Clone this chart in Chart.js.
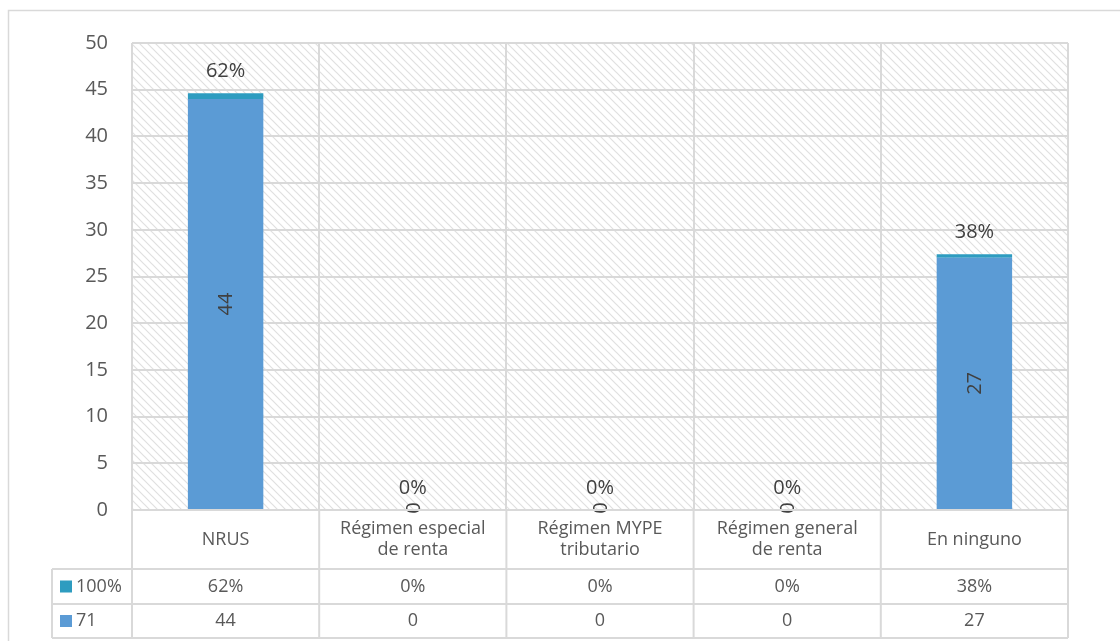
<!DOCTYPE html>
<html>
<head>
<meta charset="utf-8">
<script src="https://cdn.jsdelivr.net/npm/chart.js@4/dist/chart.umd.min.js"></script>
<style>
  html, body { margin: 0; padding: 0; background: #fff; overflow: hidden; }
  #wrap { width: 1120px; height: 641px; position: relative; }
</style>
</head>
<body>
<div id="wrap"><canvas id="chart" width="1120" height="641"></canvas></div>
<script>
// categorias (multi-line labels as arrays)
const categories = [
    ['NRUS'],
    ['Régimen especial', 'de renta'],
    ['Régimen MYPE', 'tributario'],
    ['Régimen general', 'de renta'],
    ['En ninguno']
];
const countName   = '71';
const countValues = [44, 0, 0, 0, 27];
const pctName     = '100%';
const pctValues   = [0.62, 0, 0, 0, 0.38];
const pctLabels   = ['62%', '0%', '0%', '0%', '38%'];
const yTicks      = [0, 5, 10, 15, 20, 25, 30, 35, 40, 45, 50];

const COLORS = {
    count: '#5b9bd5',
    pct:   '#2e9cc0',
    grid:  '#d9d9d9',
    text:  '#595959',
    label: '#404040'
};
const FONT = "'Open Sans', 'Noto Sans', sans-serif";

// diagonal hatch used as the plot area fill
const makeHatch = () => {
    const c = document.createElement('canvas');
    c.width = 8; c.height = 8;
    const g = c.getContext('2d');
    g.fillStyle = '#fff';
    g.fillRect(0, 0, 8, 8);
    g.strokeStyle = '#e0e0e0';
    g.lineWidth = 1.2;
    g.beginPath();
    g.moveTo(0, 0); g.lineTo(8, 8);
    g.moveTo(-4, 4); g.lineTo(4, 12);
    g.moveTo(4, -4); g.lineTo(12, 4);
    g.stroke();
    return g.createPattern(c, 'repeat');
};

const backgroundPlugin = {
    id: 'background',
    beforeDraw(chart) {
        const { ctx, chartArea: a } = chart;
        ctx.save();
        ctx.fillStyle = '#fff';
        ctx.fillRect(0, 0, chart.width, chart.height);
        // outer frame
        ctx.strokeStyle = COLORS.grid;
        ctx.lineWidth = 1.5;
        ctx.strokeRect(8.5, 10.5, chart.width + 20, chart.height + 20);
        ctx.fillStyle = makeHatch();
        ctx.fillRect(a.left, a.top, a.right - a.left, a.bottom - a.top);
        ctx.restore();
    }
};

// value labels: count rotated inside the bar, percentage above the stack
const labelPlugin = {
    id: 'barLabels',
    afterDatasetsDraw(chart) {
        const { ctx } = chart;
        const countMeta = chart.getDatasetMeta(0);
        const pctMeta   = chart.getDatasetMeta(1);
        ctx.save();
        ctx.fillStyle = COLORS.label;
        ctx.font = `20px ${FONT}`;
        ctx.textAlign = 'center';
        ctx.textBaseline = 'middle';
        countMeta.data.forEach((bar, i) => {
            const cy = countValues[i] === 0 ? bar.base - 2 : (bar.y + bar.base) / 2;
            ctx.save();
            ctx.translate(bar.x, cy);
            ctx.rotate(-Math.PI / 2);
            ctx.fillText(String(countValues[i]), 0, 1);
            ctx.restore();
        });
        pctMeta.data.forEach((bar, i) => {
            ctx.fillText(pctLabels[i], bar.x, bar.y - 22);
        });
        ctx.restore();
    }
};

// data table beneath the axis
const tablePlugin = {
    id: 'dataTable',
    afterDraw(chart) {
        const { ctx, chartArea: a } = chart;
        const x = chart.scales.x;
        const left = 52, catBottom = 569, row1 = 604, row2 = 638;
        const colW = (a.right - a.left) / categories.length;
        ctx.save();
        ctx.strokeStyle = COLORS.grid;
        ctx.lineWidth = 2;
        ctx.beginPath();
        ctx.moveTo(a.left, a.bottom); ctx.lineTo(a.right, a.bottom);
        [catBottom, row1, row2].forEach(y => { ctx.moveTo(left, y); ctx.lineTo(a.right, y); });
        for (let i = 0; i <= categories.length; i++) {
            const px = a.left + i * colW;
            ctx.moveTo(px, a.bottom); ctx.lineTo(px, row2);
        }
        ctx.moveTo(left, catBottom); ctx.lineTo(left, row2);
        ctx.stroke();

        ctx.fillStyle = COLORS.text;
        ctx.textAlign = 'center';
        ctx.textBaseline = 'middle';
        ctx.font = `18px ${FONT}`;
        const catMid = (a.bottom + catBottom) / 2;
        categories.forEach((lines, i) => {
            const cx = x.getPixelForValue(i);
            const lh = 21;
            lines.forEach((t, j) => {
                ctx.fillText(t, cx, catMid + (j - (lines.length - 1) / 2) * lh);
            });
            ctx.fillText(pctLabels[i], cx, (catBottom + row1) / 2);
            ctx.fillText(String(countValues[i]), cx, (row1 + row2) / 2);
        });

        // legend keys in the first column
        const keys = [[pctName, COLORS.pct, (catBottom + row1) / 2], [countName, COLORS.count, (row1 + row2) / 2]];
        ctx.textAlign = 'left';
        keys.forEach(([name, color, cy]) => {
            ctx.fillStyle = color;
            ctx.fillRect(60, cy - 6, 12, 12);
            ctx.fillStyle = COLORS.text;
            ctx.fillText(name, 76, cy);
        });
        ctx.restore();
    }
};

new Chart(document.getElementById('chart'), {
    type: 'bar',
    data: {
        labels: categories.map(c => c.join(' ')),
        datasets: [
            { label: countName, data: countValues, backgroundColor: COLORS.count },
            { label: pctName, data: pctValues, backgroundColor: COLORS.pct }
        ]
    },
    options: {
        responsive: false,
        animation: false,
        layout: { padding: { top: 43, right: 52, left: 0, bottom: 0 } },
        datasets: { bar: { categoryPercentage: 1, barPercentage: 0.403 } },
        plugins: { legend: { display: false }, tooltip: { enabled: false } },
        scales: {
            x: {
                stacked: true,
                grid: { offset: true, color: COLORS.grid, lineWidth: 2, drawTicks: false },
                border: { display: false },
                ticks: { display: false },
                afterFit: s => { s.height = 131; }
            },
            y: {
                stacked: true,
                min: 0,
                max: 50,
                afterBuildTicks: s => { s.ticks = yTicks.map(v => ({ value: v })); },
                grid: { color: COLORS.grid, lineWidth: 2, drawTicks: false },
                border: { display: false },
                ticks: { color: COLORS.text, font: { family: FONT, size: 20 }, padding: 24 },
                afterFit: s => { s.width = 132; }
            }
        }
    },
    plugins: [backgroundPlugin, labelPlugin, tablePlugin]
});
</script>
</body>
</html>
